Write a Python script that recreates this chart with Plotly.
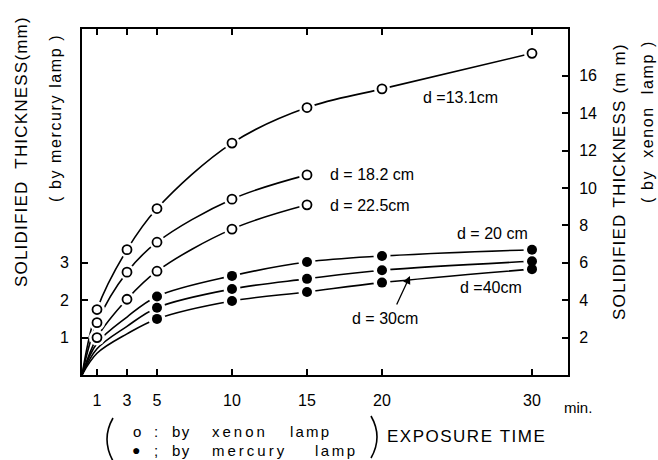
import plotly.graph_objects as go

# ---------------- data ----------------
# exposure times (min)
t_xenon = [1, 3, 5, 10, 15]
t_xenon_131 = [1, 3, 5, 10, 15, 20, 30]
t_mercury = [5, 10, 15, 20, 30]

# xenon lamp (open circles, right axis, mm)
xenon_131 = [3.5, 6.7, 8.9, 12.4, 14.3, 15.3, 17.2]
xenon_182 = [2.8, 5.5, 7.1, 9.4, 10.7]
xenon_225 = [2.0, 4.05, 5.55, 7.8, 9.1]

# mercury lamp (filled circles, left axis, mm)
mercury_20 = [2.1, 2.65, 3.02, 3.18, 3.35]
mercury_30 = [1.8, 2.3, 2.57, 2.8, 3.04]
mercury_40 = [1.5, 1.98, 2.22, 2.47, 2.83]

# fitted curve readings near the origin
curve_t_early = [0, 1, 3]
mercury_20_early = [0, 0.85, 1.55]
mercury_30_early = [0, 0.7, 1.3]
mercury_40_early = [0, 0.58, 1.1]

x_ticks = [1, 3, 5, 10, 15, 20, 30]
left_ticks = [1, 2, 3]
right_ticks = [2, 4, 6, 8, 10, 12, 14, 16]

# ---------------- layout helpers ----------------
L, R, T, B = 82, 568, 29, 375
W, H = 658, 460


def px(xp):
    return (xp - L) / (R - L)


def py(yp):
    return (B - yp) / (B - T)


FONT = "Liberation Sans, Arial, sans-serif"
fig = go.Figure()

# curves
xen = [(t_xenon_131, xenon_131), (t_xenon, xenon_182), (t_xenon, xenon_225)]
mer = [(mercury_20, mercury_20_early), (mercury_30, mercury_30_early), (mercury_40, mercury_40_early)]

for tt, vv in xen:
    fig.add_trace(go.Scatter(x=[0] + tt, y=[0] + vv, yaxis="y2", mode="lines",
                             line=dict(color="black", width=1.6, shape="spline", smoothing=1.0),
                             hoverinfo="skip", showlegend=False))
for vv, early in mer:
    fig.add_trace(go.Scatter(x=curve_t_early + t_mercury, y=early + vv, yaxis="y", mode="lines",
                             line=dict(color="black", width=1.6, shape="spline", smoothing=1.0),
                             hoverinfo="skip", showlegend=False))

# white halos to break the lines around markers
for tt, vv in xen:
    fig.add_trace(go.Scatter(x=tt, y=vv, yaxis="y2", mode="markers",
                             marker=dict(size=16, color="white", line=dict(width=0)),
                             hoverinfo="skip", showlegend=False))
for vv, _ in mer:
    fig.add_trace(go.Scatter(x=t_mercury, y=vv, yaxis="y", mode="markers",
                             marker=dict(size=17, color="white", line=dict(width=0)),
                             hoverinfo="skip", showlegend=False))

# markers
for tt, vv in xen:
    fig.add_trace(go.Scatter(x=tt, y=vv, yaxis="y2", mode="markers",
                             marker=dict(size=9, color="white", line=dict(width=1.8, color="black")),
                             showlegend=False))
for vv, _ in mer:
    fig.add_trace(go.Scatter(x=t_mercury, y=vv, yaxis="y", mode="markers",
                             marker=dict(size=10, color="black", line=dict(width=0)),
                             showlegend=False))

ann = []


def text(xp, yp, s, size=15, angle=0, xanchor="center", family=FONT, ls=0):
    if ls:
        s = '<span style="letter-spacing:%spx">%s</span>' % (ls, s)
    ann.append(dict(x=px(xp), y=py(yp), xref="paper", yref="paper", text=s, showarrow=False,
                    textangle=angle, xanchor=xanchor, yanchor="middle",
                    font=dict(family=family, size=size, color="black")))


NB = "\u00a0"
text(460, 97, "d =13.1cm", 16)
text(328, 175, "d = 18.2 cm", 16, xanchor="left")
text(328, 205, "d = 22.5cm", 16, xanchor="left")
text(492, 233, "d = 20 cm", 16)
text(491, 287, "d =40cm", 16)
text(385, 318, "d = 30cm", 16)

# arrow for d = 30cm
ann.append(dict(x=px(410), y=py(276), ax=-14, ay=30, xref="paper", yref="paper",
                axref="pixel", ayref="pixel", showarrow=True, arrowhead=2, arrowsize=1.2,
                arrowwidth=1.3, arrowcolor="black", text=""))

# axis titles
text(21, 152, "SOLIDIFIED" + NB + NB + "THICKNESS(mm)", 17, angle=-90, ls=1.2)
text(55, 118, "(" + NB + "by" + NB + "mercury" + NB + "lamp" + NB + ")", 16, angle=-90, ls=1.6)
text(619, 182, "SOLIDIFIED" + NB + "THICKNESS" + NB + "(m" + NB + "m)", 17, angle=-90, ls=1.2)
text(647, 122, "(" + NB + "by" + NB + NB + "xenon" + NB + NB + "lamp" + NB + ")", 16, angle=-90, ls=1.6)

# x labels
text(578, 407, "min.", 15)
text(385, 436, "EXPOSURE" + NB + "TIME", 17, xanchor="left", ls=1.5)

# legend-like note
text(137, 431, "o", 15)
text(156, 431, ":", 15)
text(170, 431, "by", 15, xanchor="left", ls=1.5)
text(210, 431, "xenon", 15, xanchor="left", ls=3)
text(288, 431, "lamp", 15, xanchor="left", ls=2.2)
text(136, 450, "\u25cf", 14)
text(156, 450, ";", 15)
text(170, 450, "by", 15, xanchor="left", ls=1.5)
text(210, 450, "mercury", 15, xanchor="left", ls=3)
text(313, 450, "lamp", 15, xanchor="left", ls=2.5)

shapes = [
    dict(type="path", xref="paper", yref="paper", line=dict(color="black", width=1.6),
         path="M %f,%f Q %f,%f %f,%f" % (px(113), py(418), px(101), py(439), px(113), py(461))),
    dict(type="path", xref="paper", yref="paper", line=dict(color="black", width=1.6),
         path="M %f,%f Q %f,%f %f,%f" % (px(371), py(416), px(383), py(437), px(371), py(458))),
]

axis_common = dict(showgrid=False, zeroline=False, showline=True, linecolor="black", linewidth=2,
                   ticks="inside", ticklen=6, tickwidth=1.5, tickcolor="black",
                   tickfont=dict(family=FONT, size=16, color="black"))

fig.update_layout(
    width=W, height=H,
    margin=dict(l=L, r=W - R, t=T, b=H - B),
    paper_bgcolor="white", plot_bgcolor="white",
    showlegend=False,
    xaxis=dict(range=[0, (R - L) / 15.0], tickvals=x_ticks, mirror="ticks",
               ticklabelstandoff=10, **axis_common),
    yaxis=dict(range=[0, 9.25], tickvals=left_ticks, ticklabelstandoff=8, **axis_common),
    yaxis2=dict(range=[0, 18.5], tickvals=right_ticks, overlaying="y", side="right",
                ticklabelstandoff=6, **axis_common),
    annotations=ann,
    shapes=shapes,
)

fig.write_html("out.html", config={"displayModeBar": False},
               post_script="document.body.style.margin='0px';document.body.style.overflow='hidden';")
